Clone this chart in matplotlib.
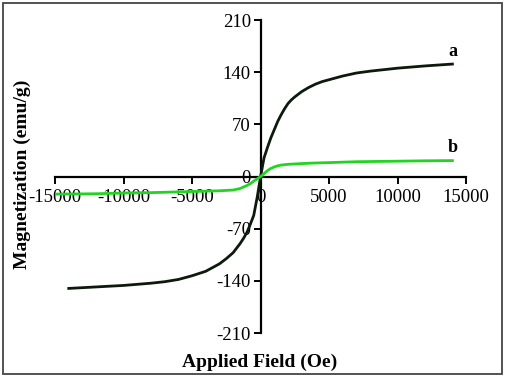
import matplotlib.pyplot as plt
from matplotlib.patches import Rectangle

# sample a
field_a = [-14000, -12000, -10000, -8000, -7000, -6000, -5000, -4500, -4000, -3500, -3000,
           -2500, -2250, -2000, -1750, -1500, -1250, -1000, -750, -500, -250, 0,
           250, 500, 750, 1000, 1250, 1500, 1750, 2000, 2250, 2500, 3000, 3500,
           4000, 4500, 5000, 6000, 7000, 8000, 10000, 12000, 14000]
mag_a = [-150, -148, -146, -143, -141, -138, -133, -130, -127, -122, -117,
         -110, -106, -102, -96, -90, -83, -75, -64, -52, -28, 0,
         25, 39, 52, 63, 74, 83, 91, 98, 103, 107, 114, 119.5,
         124, 127.5, 130, 135, 139, 141.5, 145.5, 148.5, 151]

# sample b
field_b = [-15000, -12000, -10000, -8000, -6000, -5000, -4000, -3000, -2000, -1500, -1000,
           -750, -500, -250, 0, 250, 500, 750, 1000, 1250, 1500, 2000, 3000, 4000,
           5000, 7000, 10000, 12000, 14000]
mag_b = [-23.5, -23, -22, -21.5, -20.5, -20, -19.5, -19, -18, -16, -12,
         -9.5, -6, -3, 0, 4, 8, 11, 13, 14.5, 15.5, 16.5, 17.5, 18.3,
         18.8, 20, 20.7, 21.2, 21.5]

x_ticks = [-15000, -10000, -5000, 0, 5000, 10000, 15000]
y_ticks = [-210, -140, -70, 0, 70, 140, 210]

plt.rcParams['font.family'] = ['Liberation Serif', 'DejaVu Serif']
plt.rcParams['axes.unicode_minus'] = False

fig = plt.figure(figsize=(5.05, 3.79), dpi=100)
ax = fig.add_axes([0.109, 0.121, 0.814, 0.826])

ax.plot(field_a, mag_a, color='#0c1a0c', lw=2.0, zorder=3)
ax.plot(field_b, mag_b, color='#22d422', lw=2.0, zorder=3)

ax.text(14000, 157, 'a', fontsize=13, fontweight='bold', ha='center', va='bottom')
ax.text(14000, 27, 'b', fontsize=13, fontweight='bold', ha='center', va='bottom')

ax.set_xlim(-15000, 15000)
ax.set_ylim(-210, 210)
ax.set_xticks(x_ticks)
ax.set_yticks(y_ticks)

ax.spines['left'].set_position(('data', 0))
ax.spines['bottom'].set_position(('data', 0))
ax.spines['right'].set_visible(False)
ax.spines['top'].set_visible(False)
for s in ['left', 'bottom']:
    ax.spines[s].set_linewidth(1.6)
ax.tick_params(direction='out', length=5, width=1.4, labelsize=13.5, pad=2)
ax.tick_params(axis='x', pad=4)

fig.text(0.515, 0.045, 'Applied Field (Oe)', fontsize=14, fontweight='bold',
         ha='center', va='center')
fig.text(0.045, 0.54, 'Magnetization (emu/g)', fontsize=14, fontweight='bold',
         ha='center', va='center', rotation=90)

fig.patches.append(Rectangle((0.006, 0.012), 0.988, 0.98, transform=fig.transFigure,
                             fill=False, edgecolor='#444444', lw=1.3))

fig.savefig('out.png', dpi=100)
